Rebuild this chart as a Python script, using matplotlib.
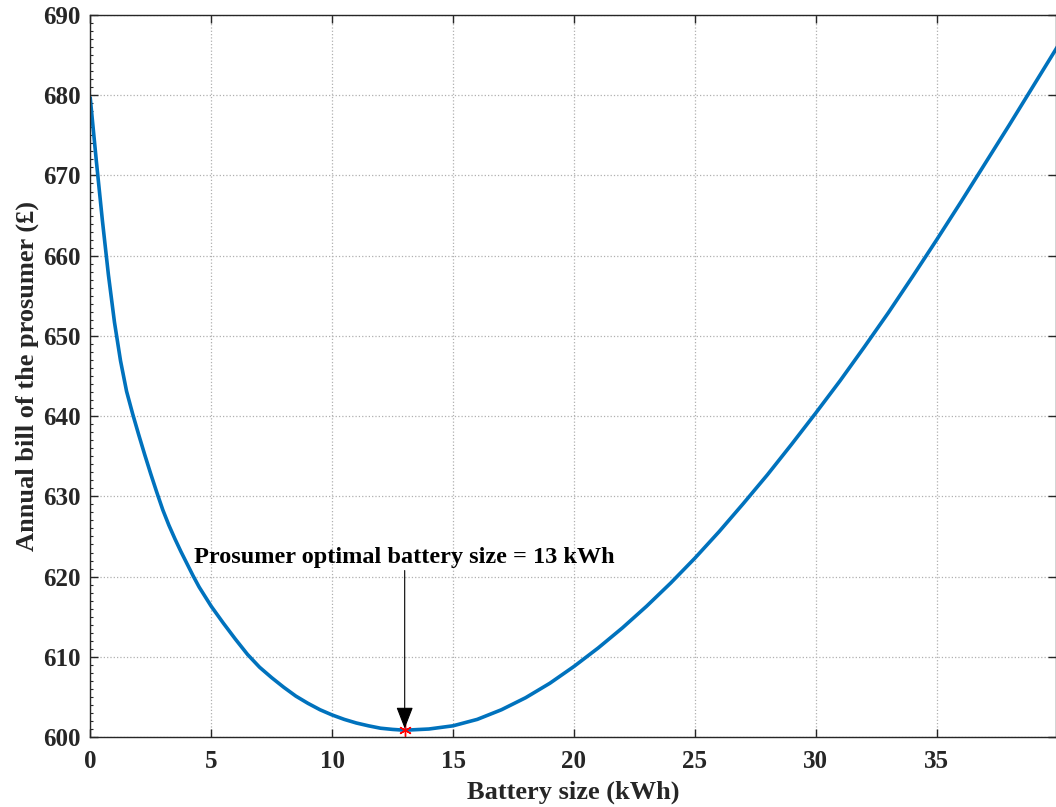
import matplotlib
matplotlib.use('Agg')
import matplotlib.pyplot as plt
from matplotlib.ticker import MultipleLocator

# battery size (kWh) and annual bill (GBP)
battery_kwh = [0, 0.25, 0.5, 0.75, 1, 1.25, 1.5, 1.75, 2, 2.25, 2.5, 2.75, 3, 3.25, 3.5,
               3.75, 4, 4.25, 4.5, 5, 5.5, 6, 6.5, 7, 7.5, 8, 8.5, 9, 9.5, 10, 10.5,
               11, 11.5, 12, 12.5, 13, 14, 15, 16, 17, 18, 19, 20, 21, 22, 23, 24,
               25, 26, 27, 28, 29, 30, 31, 32, 33, 34, 35, 36, 37, 38, 39, 40]
annual_bill = [679.6, 671.8, 664.4, 657.6, 651.7, 646.9, 643.1, 640.3, 637.7, 635.2,
               632.8, 630.5, 628.3, 626.4, 624.7, 623.1, 621.6, 620.1, 618.7, 616.3,
               614.2, 612.2, 610.3, 608.7, 607.4, 606.2, 605.1, 604.2, 603.4, 602.75,
               602.2, 601.75, 601.4, 601.1, 600.95, 600.85, 601.0, 601.4, 602.2, 603.4,
               604.9, 606.7, 608.8, 611.1, 613.6, 616.3, 619.2, 622.3, 625.6, 629.1,
               632.7, 636.5, 640.4, 644.4, 648.6, 652.9, 657.4, 662.0, 666.7, 671.5,
               676.3, 681.2, 686.1]
opt_size = 13
opt_bill = 600.85

plt.rcParams['font.family'] = 'Liberation Serif'
plt.rcParams['font.weight'] = 'bold'

fig = plt.figure(figsize=(10.56, 8.07), dpi=100)
ax = fig.add_axes([0.0855, 0.0867, 0.9145, 0.8947])

ax.plot(battery_kwh, annual_bill, color='#0072BD', lw=2.6)
ax.plot(opt_size, opt_bill, marker=(6, 2, 0), color='red', ms=9, mew=1)

ax.annotate('Prosumer optimal battery size = 13 kWh',
            xy=(opt_size, opt_bill + 0.2), xytext=(opt_size, 621.1),
            ha='center', va='bottom', fontsize=17.5, fontweight='bold', color='black',
            arrowprops=dict(arrowstyle='-|>,head_length=0.9,head_width=0.35',
                            color='black', lw=0.8, mutation_scale=15,
                            shrinkA=0, shrinkB=0))

ax.set_xlim(0, 39.93)
ax.set_ylim(600, 690)
ax.set_xticks(range(0, 36, 5))
ax.set_yticks(range(600, 691, 10))
ax.yaxis.set_minor_locator(MultipleLocator(1))
ax.grid(True, linestyle=':', color='#b0b0b0', lw=0.9)
ax.tick_params(direction='in', top=True, right=True, length=6, width=1,
               labelsize=18, colors='#262626')
ax.tick_params(axis='x', pad=9)
ax.tick_params(axis='y', pad=7)
ax.tick_params(axis='y', which='minor', direction='in', left=True, right=False,
               length=2.5, width=0.8, colors='#262626')
for lbl in ax.get_xticklabels() + ax.get_yticklabels():
    lbl.set_fontweight('bold')
for s in ax.spines.values():
    s.set_color('#262626')
    s.set_linewidth(1)

ax.set_xlabel('Battery size (kWh)', fontsize=19, fontweight='bold', color='#262626', labelpad=6)
ax.set_ylabel('Annual bill of the prosumer (£)', fontsize=19, fontweight='bold', color='#262626', labelpad=3)

fig.savefig('out.png', dpi=100)
